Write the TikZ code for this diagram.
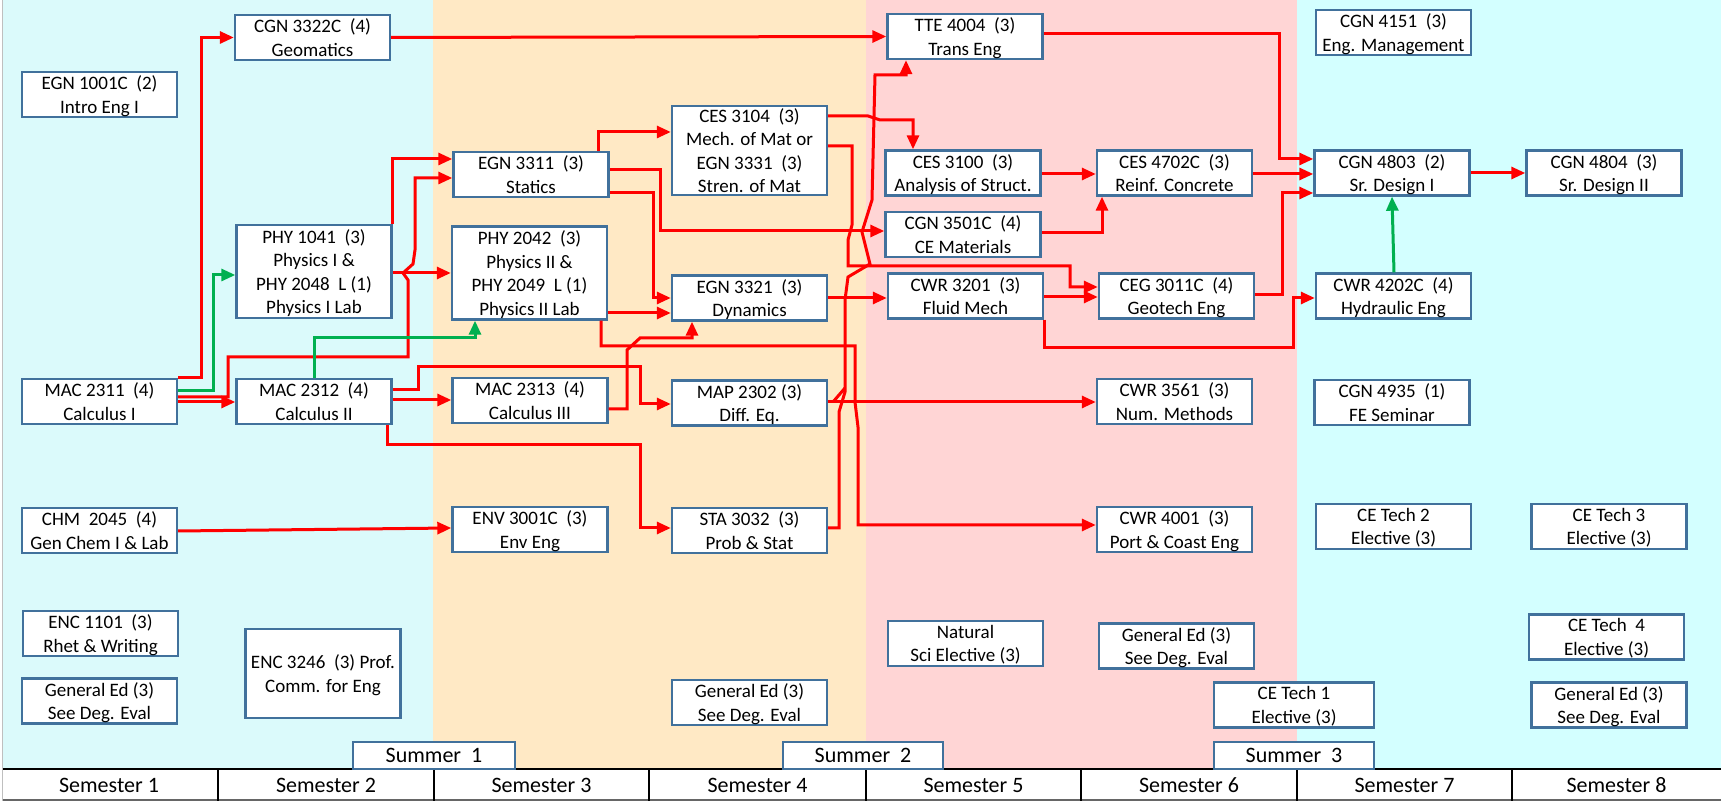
\documentclass[tikz,border=0pt]{standalone}
\usepackage{fontspec}
\setmainfont{Carlito}
\usetikzlibrary{arrows.meta}

\definecolor{semcyan}{RGB}{219,250,251}
\definecolor{sempeach}{RGB}{255,233,197}
\definecolor{sempink}{RGB}{255,213,213}
\definecolor{semaqua}{RGB}{211,255,255}
\definecolor{boxblue}{RGB}{65,113,156}
\definecolor{coreq}{RGB}{0,176,80}
\newcommand{\crsfont}{\fontsize{9.5}{11.7}\selectfont}
\newcommand{\semfont}{\fontsize{11}{13}\selectfont}

\begin{document}
\begin{tikzpicture}[x = 0.5pt, y = -0.5pt,
    course/.style = {draw = boxblue, line width = 1.2pt, fill = white,
      minimum width = 77.5pt, minimum height = 22.5pt, inner sep = 0pt,
      text depth = 0pt, align = center, font = \crsfont},
    tall/.style = {minimum height = 46.5pt},
    summer/.style = {course, minimum height = 13.5pt, font = \semfont},
    semester/.style = {font = \semfont},
    pre/.style = {draw = red, line width = 1.5pt, -{Triangle[length = 7pt, width = 6pt]}},
    preline/.style = {draw = red, line width = 1.5pt},
    co/.style = {draw = coreq, line width = 1.5pt, -{Triangle[length = 7pt, width = 6pt]}}]
  \useasboundingbox (0,0) rectangle (1721,801);
  % semester columns
  \fill[semcyan] (3,0) rectangle (433,769);
  \fill[sempeach] (433,0) rectangle (866,769);
  \fill[sempink] (866,0) rectangle (1297,769);
  \fill[semaqua] (1297,0) rectangle (1721,769);
  \draw[black!25, line width = 0.8pt] (2.5,0) -- (2.5,801);
  % bottom row
  \draw[black!60, line width = 0.6pt] (3,800) -- (1721,800);
  \draw[line width = 0.7pt] (218,769) -- (218,801) (434,769) -- (434,801)
    (649,769) -- (649,801) (866,769) -- (866,801) (1081,769) -- (1081,801)
    (1297,769) -- (1297,801) (1512,769) -- (1512,801);
  \draw[line width = 1.2pt] (3,769) -- (1721,769);
  \node[semester] (sem1) at (109,785) {Semester 1};
  \node[semester] (sem2) at (326,785) {Semester 2};
  \node[semester] (sem3) at (541.5,785) {Semester 3};
  \node[semester] (sem4) at (757.5,785) {Semester 4};
  \node[semester] (sem5) at (973.5,785) {Semester 5};
  \node[semester] (sem6) at (1189,785) {Semester 6};
  \node[semester] (sem7) at (1404.5,785) {Semester 7};
  \node[semester] (sem8) at (1616.5,785) {Semester 8};
  \node[summer, minimum width = 81pt] (sum1) at (434,755.5) {Summer~ 1};
  \node[summer, minimum width = 80pt] (sum2) at (863,755.5) {Summer~ 2};
  \node[summer, minimum width = 80pt] (sum3) at (1294,755.5) {Summer~ 3};

  % semester 1
  \node[course] (egn1001) at (99.5,94.5) {EGN 1001C~ (2)\\Intro Eng I};
  \node[course] (mac2311) at (99.5,401.5) {MAC 2311~ (4)\\Calculus I};
  \node[course] (chm2045) at (99.5,530.5) {CHM~ 2045~ (4)\\Gen Chem I \& Lab};
  \node[course] (enc1101) at (100.5,633.5) {ENC 1101~ (3)\\Rhet \& Writing};
  \node[course] (gened1) at (99.5,701) {General Ed (3)\\See Deg. Eval};
  % semester 2
  \node[course] (cgn3322) at (312.5,37.5) {CGN 3322C~ (4)\\Geomatics};
  \node[course, tall] (phy1041) at (314,271.5)
    {PHY 1041~ (3)\\Physics I \&\\PHY 2048~ L (1)\\Physics I Lab};
  \node[course] (mac2312) at (314,401.5) {MAC 2312~ (4)\\Calculus II};
  \node[course, minimum height = 44.5pt] (enc3246) at (323,673.5)
    {ENC 3246~ (3) Prof.\\Comm. for Eng};
  % semester 3
  \node[course] (egn3311) at (531,174.5) {EGN 3311~ (3)\\Statics};
  \node[course, tall] (phy2042) at (529.5,273)
    {PHY 2042~ (3)\\Physics II \&\\PHY 2049~ L (1)\\Physics II Lab};
  \node[course] (mac2313) at (530,400.5) {MAC 2313~ (4)\\Calculus III};
  \node[course] (env3001) at (530,529.5) {ENV 3001C~ (3)\\Env Eng};
  % semester 4
  \node[course, minimum height = 44.5pt] (ces3104) at (749.5,150.5)
    {CES 3104~ (3)\\Mech. of Mat or\\EGN 3331~ (3)\\Stren. of Mat};
  \node[course] (egn3321) at (749.5,298) {EGN 3321~ (3)\\Dynamics};
  \node[course] (map2302) at (749.5,403) {MAP 2302 (3)\\Diff. Eq.};
  \node[course] (sta3032) at (749.5,530.5) {STA 3032~ (3)\\Prob \& Stat};
  \node[course] (gened4) at (749.5,702.5) {General Ed (3)\\See Deg. Eval};
  % semester 5
  \node[course] (tte4004) at (965,36.5) {TTE 4004~ (3)\\Trans Eng};
  \node[course] (ces3100) at (963,173) {CES 3100~ (3)\\Analysis of Struct.};
  \node[course] (cgn3501) at (963,234.5) {CGN 3501C~ (4)\\CE Materials};
  \node[course] (cwr3201) at (965.5,296) {CWR 3201~ (3)\\Fluid Mech};
  \node[course] (natsci) at (965.5,643.5) {Natural\\Sci Elective (3)};
  % semester 6
  \node[course] (ces4702) at (1174.5,173) {CES 4702C~ (3)\\Reinf. Concrete};
  \node[course] (ceg3011) at (1176.5,296) {CEG 3011C~ (4)\\Geotech Eng};
  \node[course] (cwr3561) at (1174.5,401.5) {CWR 3561~ (3)\\Num. Methods};
  \node[course] (cwr4001) at (1174.5,529.5) {CWR 4001~ (3)\\Port \& Coast Eng};
  \node[course] (gened6) at (1176.5,646) {General Ed (3)\\See Deg. Eval};
  \node[course, minimum width = 80pt] (cetech1) at (1294,705) {CE Tech 1\\Elective (3)};
  % semester 7
  \node[course] (cgn4151) at (1393.5,32.5) {CGN 4151~ (3)\\Eng. Management};
  \node[course] (cgn4803) at (1392,173) {CGN 4803~ (2)\\Sr. Design I};
  \node[course] (cwr4202) at (1393.5,296) {CWR 4202C~ (4)\\Hydraulic Eng};
  \node[course] (cgn4935) at (1392,402.5) {CGN 4935~ (1)\\FE Seminar};
  \node[course] (cetech2) at (1393.5,526.5) {CE Tech 2\\Elective (3)};
  % semester 8
  \node[course] (cgn4804) at (1604,173) {CGN 4804~ (3)\\Sr. Design II};
  \node[course] (cetech3) at (1609,526.5) {CE Tech 3\\Elective (3)};
  \node[course] (cetech4) at (1606.5,637) {CE Tech~ 4\\Elective (3)};
  \node[course] (gened8) at (1609,705) {General Ed (3)\\See Deg. Eval};

  % prerequisites
  \draw[pre] (mac2311.north east) -- ++(23,0) |- (cgn3322.west);
  \draw[co] (mac2311.east |- 0,391) -| (213,275) -- (phy1041.west |- 0,275);
  \draw[pre] (mac2311.east |- 0,402) -- (mac2312.west |- 0,402);
  \draw[preline] (mac2311.east |- 0,397) -- (228,397) -- (228,357)
    -- (408,357) -- (408,280) -- (403,273);
  \draw[pre] (phy1041.east |- 0,273) -- (phy2042.west |- 0,273);
  \draw[pre] (403,273) -- (413,264) -- (415,250) |- (egn3311.west |- 0,178);
  \draw[pre] (phy1041.north east) |- (egn3311.west |- 0,159);
  \draw[co] (mac2312.north) |- (475,338) -- (phy2042.south -| 475,0);
  \draw[pre] (mac2312.east |- 0,390) -- (418,390) -- (418,367) -| (640,404)
    -- (map2302.west |- 0,404);
  \draw[pre] (mac2312.east |- 0,400) -- (mac2313.west |- 0,400);
  \draw[pre] (mac2312.south -| 387,0) |- (640,445) |- (sta3032.west |- 0,528);
  \draw[pre] (chm2045.east |- 0,531) -- (env3001.west |- 0,528);
  \draw[pre] (mac2313.east |- 0,409) -- (627,409) -- (627,350) -- (640,338)
    -| (egn3321.south -| 692,0);
  \draw[pre] (phy2042.south -| 601,0) |- (855,346) -- (855,402) -- (858,427)
    |- (cwr4001.west |- 0,525);
  \draw[pre] (egn3311.east |- 0,170) -| (660,231) -- (cgn3501.west |- 0,231);
  \draw[pre] (egn3311.east |- 0,193) -| (653,298) -- (egn3321.west |- 0,298);
  \draw[pre] (phy2042.east |- 0,313) -- (egn3321.west |- 0,313);
  \draw[pre] (egn3311.north -| 598,0) |- (ces3104.west |- 0,132);
  \draw[pre] (ces3104.east |- 0,116) -- (868,116) -- (880,120)
    -| (ces3100.north -| 913,0);
  \draw[pre] (ces3104.east |- 0,146) -| (852,225) -- (848,240) -- (848,266)
    -| (1070,287) -- (ceg3011.west |- 0,287);
  \draw[pre] (egn3321.east |- 0,298) -- (cwr3201.west |- 0,298);
  \draw[pre] (map2302.east |- 0,402) -- (cwr3561.west |- 0,402);
  \draw[preline] (833,402) -- (845,388);
  \draw[pre] (sta3032.east |- 0,528) -- (839,528) -- (839,412) -- (845,392)
    -- (845,300) -- (848,277) -- (870,264) -- (862,232) -- (872,200)
    -- (875,75) -- (906,75) -- (tte4004.south -| 906,0);
  \draw[pre] (cgn3322.east) -- (tte4004.west);
  \draw[pre] (cwr3201.south east) |- (1293,348) |- (cwr4202.west |- 0,298);
  \draw[pre] (cwr3201.east |- 0,297) -- (ceg3011.west |- 0,297);
  \draw[pre] (ces3100.east |- 0,174) -- (ces4702.west |- 0,174);
  \draw[pre] (cgn3501.east |- 0,233) -| (ces4702.south -| 1102,0);
  \draw[pre] (ces4702.east |- 0,174) -- (cgn4803.west |- 0,174);
  \draw[pre] (tte4004.east |- 0,34) -| (1279,159) -- (cgn4803.west |- 0,159);
  \draw[pre] (ceg3011.east |- 0,295) -| (1282,193) -- (cgn4803.west |- 0,193);
  \draw[pre] (cgn4803) -- (cgn4804);
  \draw[co] (cwr4202.north -| 1394,0) -- (cgn4803.south -| 1392,0);
\end{tikzpicture}
\end{document}
